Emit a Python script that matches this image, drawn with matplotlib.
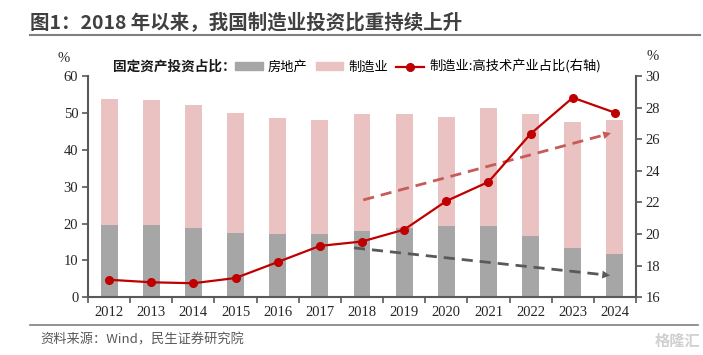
import matplotlib
matplotlib.use('Agg')
import matplotlib.pyplot as plt
from matplotlib.patches import Patch, FancyArrowPatch
from matplotlib.lines import Line2D
import numpy as np

plt.rcParams['font.family'] = ['Noto Sans CJK SC', 'DejaVu Sans']

# data
years = ['2012', '2013', '2014', '2015', '2016', '2017', '2018',
         '2019', '2020', '2021', '2022', '2023', '2024']
real_estate = [19.6, 19.6, 18.9, 17.4, 17.2, 17.2, 18.0,
               18.9, 19.4, 19.4, 16.7, 13.4, 11.8]
total_share = [53.8, 53.4, 52.1, 49.9, 48.6, 48.0, 49.6,
               49.6, 48.9, 51.2, 49.6, 47.6, 48.0]
manufacturing = [t - r for t, r in zip(total_share, real_estate)]
hightech_share = [17.11, 16.95, 16.89, 17.22, 18.23, 19.25, 19.53,
                  20.28, 22.09, 23.30, 26.34, 28.63, 27.68]

# trend arrows (x index, left-axis value)
red_arrow = [(6.03, 26.4), (11.97, 44.7)]
gray_arrow = [(5.81, 13.4), (11.95, 5.85)]

c_gray = '#A6A6A6'
c_pink = '#EAC2C2'
c_red = '#C00000'
c_axis = '#595959'
serif = 'Liberation Serif'

fig = plt.figure(figsize=(7.03, 3.55), dpi=100)
ax = fig.add_axes([88 / 703, 1 - 297.3 / 355, 548 / 703, 221.3 / 355])
ax2 = ax.twinx()

x = np.arange(len(years))
ax.bar(x, real_estate, width=0.4, color=c_gray, zorder=2)
ax.bar(x, manufacturing, width=0.4, bottom=real_estate, color=c_pink, zorder=2)

ax2.plot(x, hightech_share, color=c_red, lw=1.6, marker='o', ms=5.5, zorder=3)


def trend_arrow(a, p0, p1, color):
    dx = p1[0] - p0[0]
    dy = p1[1] - p0[1]
    k = 0.96
    a.plot([p0[0], p0[0] + dx * k], [p0[1], p0[1] + dy * k], color=color,
           lw=2, ls=(0, (4, 2.5)), zorder=4)
    head = FancyArrowPatch((p0[0] + dx * 0.93, p0[1] + dy * 0.93), p1,
                           arrowstyle='-|>', mutation_scale=14, color=color,
                           lw=0, zorder=5)
    a.add_patch(head)


trend_arrow(ax, red_arrow[0], red_arrow[1], '#C65B57')
trend_arrow(ax, gray_arrow[0], gray_arrow[1], '#595959')

ax.set_xlim(-0.5, 12.5)
ax.set_ylim(0, 60)
ax2.set_ylim(16, 30)
ax.set_yticks(range(0, 61, 10))
ax2.set_yticks(range(16, 31, 2))
ax.set_xticks(x)
ax.set_xticklabels(years)
ax.set_xticks(np.arange(-0.5, 13, 1), minor=True)
ax.tick_params(axis='x', which='major', length=0, pad=6)
ax.tick_params(axis='x', which='minor', length=4, width=1.2, color=c_axis, direction='out')
ax.tick_params(axis='y', length=4, width=1.2, color=c_axis, pad=3)
ax2.tick_params(axis='y', length=4, width=1.2, color=c_axis, pad=3)
for lab in ax.get_xticklabels() + ax.get_yticklabels() + ax2.get_yticklabels():
    lab.set_fontfamily(serif)
    lab.set_fontsize(10.5)
    lab.set_color('#262626')

for a in (ax, ax2):
    a.spines['top'].set_visible(False)
    for s in ('left', 'right', 'bottom'):
        a.spines[s].set_color(c_axis)
        a.spines[s].set_linewidth(1.5)
ax.spines['right'].set_visible(False)
ax2.spines['left'].set_visible(False)
ax2.spines['bottom'].set_visible(False)

fig.text(64 / 703, 1 - 58 / 355, '%', family=serif, fontsize=10.5, ha='center', va='center', color='#262626')
fig.text(653 / 703, 1 - 57 / 355, '%', family=serif, fontsize=10.5, ha='center', va='center', color='#262626')

# legend
fig.text(113 / 703, 1 - 67 / 355, '固定资产投资占比：', fontsize=9.8, fontweight='bold',
         ha='left', va='center', color='#1a1a1a')
handles = [Patch(color=c_gray), Patch(color=c_pink),
           Line2D([], [], color=c_red, lw=1.6, marker='o', ms=5.5)]
labels = ['房地产', '制造业', '制造业:高技术产业占比(右轴)']
fig.legend(handles, labels, loc='center left', bbox_to_anchor=(235 / 703, 1 - 67 / 355),
           ncol=3, frameon=False, fontsize=9.5, handlelength=2.1, handleheight=0.55,
           handletextpad=0.4, columnspacing=0.6, borderpad=0, borderaxespad=0)

# title and frame lines
fig.text(30 / 703, 1 - 23 / 355, '图1：2018 年以来，我国制造业投资比重持续上升',
         fontsize=14, fontweight='bold', color='#404040', ha='left', va='center')
fig.add_artist(Line2D([30 / 703, 700 / 703], [1 - 35 / 355, 1 - 35 / 355],
                      color='#7F7F7F', lw=1.5))
fig.add_artist(Line2D([30 / 703, 698 / 703], [1 - 325 / 355, 1 - 325 / 355],
                      color='#7F7F7F', lw=1.2))
fig.text(40 / 703, 1 - 340 / 355, '资料来源：Wind，民生证券研究院', fontsize=9.5,
         color='#595959', ha='left', va='center')
fig.text(700 / 703, 1 - 341 / 355, '格隆汇', fontsize=11, color='#D0D0D0',
         ha='right', va='center', fontweight='bold')

fig.savefig('out.png', dpi=100)
